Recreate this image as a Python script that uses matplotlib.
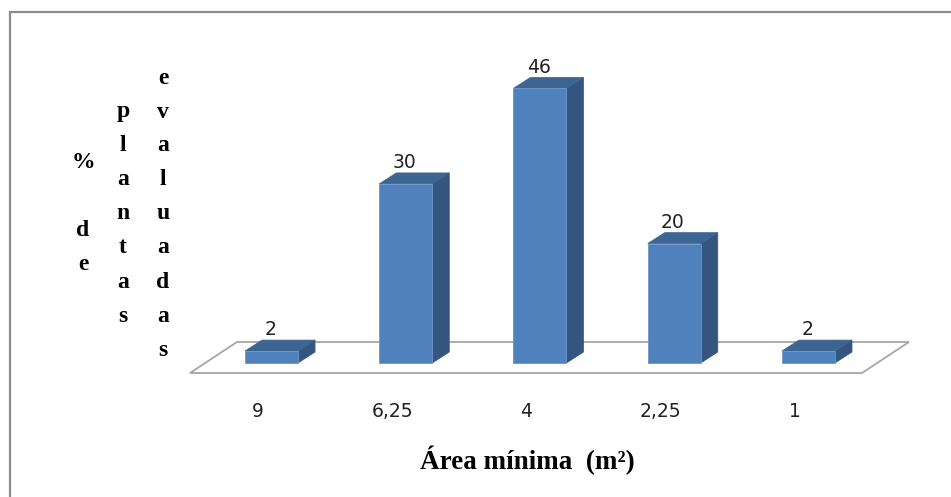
import numpy as np
import matplotlib
matplotlib.use("Agg")
import matplotlib.pyplot as plt
from matplotlib.patches import Polygon, Rectangle

# Minimum area per plant (m²) and share of evaluated plants (%)
areas = ["9", "6,25", "4", "2,25", "1"]
percent = [2, 30, 46, 20, 2]

W, H = 951, 497
FRONT = "#4F81BD"
SIDE = "#34557F"
TOP = "#3D6592"

fig = plt.figure(figsize=(W / 100, H / 100), dpi=100)
fig.patch.set_facecolor("white")

# chart frame runs off the right and bottom edges
fig.add_artist(Rectangle((10 / W, -0.05), 1.1, 1 - 12 / H + 0.05,
                         transform=fig.transFigure, fill=False,
                         ec="#8C8C8C", lw=1.6, clip_on=False))

ax = fig.add_axes([190 / W, (H - 373) / H, 672 / W, 313 / H])
ax.set_xlim(-0.607, 4.399)
ax.set_ylim(-1.675, 50.75)

x = np.arange(len(areas))
bw = 0.395          # bar width
ddx, ddy = 0.127, 1.84   # bar depth offset
fdx, fdy = 0.35, 5.19    # floor depth offset
y0 = -1.675

# floor
x_lo, x_hi = -0.607, 4.399
floor = Polygon([(x_lo, y0), (x_hi, y0), (x_hi + fdx, y0 + fdy), (x_lo + fdx, y0 + fdy)],
                closed=True, fc="white", ec="#A6A6A6", lw=1.3, zorder=1, clip_on=False)
ax.add_patch(floor)

bars = ax.bar(x, percent, width=bw, color=FRONT, edgecolor="#6E96C8", linewidth=0.6, zorder=3)
for rect, v in zip(bars, percent):
    l = rect.get_x()
    r = l + rect.get_width()
    side = Polygon([(r, 0), (r + ddx, ddy), (r + ddx, v + ddy), (r, v)],
                   closed=True, fc=SIDE, ec=SIDE, lw=0.5, zorder=2, clip_on=False)
    top = Polygon([(l, v), (r, v), (r + ddx, v + ddy), (l + ddx, v + ddy)],
                  closed=True, fc=TOP, ec=TOP, lw=0.5, zorder=2, clip_on=False)
    ax.add_patch(side)
    ax.add_patch(top)
    ax.text(rect.get_x() + rect.get_width() / 2 - 0.01, v + ddy + 1.7, str(v),
            ha="center", va="center", fontsize=13.5, color="#222222", zorder=4)

for s in ax.spines.values():
    s.set_visible(False)
ax.set_yticks([])
ax.set_xticks(x - 0.1, areas)
ax.tick_params(axis="x", length=0, pad=21, labelsize=13.5, labelcolor="#222222")
ax.patch.set_alpha(0)

fig.text(527 / W, 1 - 460 / H, "Área mínima  (m²)", family="Liberation Serif",
         weight="bold", fontsize=19.5, ha="center", va="center")

# y label written as stacked letters in three columns
cols = [(83, ["%", "", "d", "e"]), (123, list("plantas")), (163, list("evaluadas"))]
for cx, letters in cols:
    n = len(letters)
    for i, ch in enumerate(letters):
        cy = 214 + (i - (n - 1) / 2) * 34
        fig.text(cx / W, 1 - cy / H, ch, family="Liberation Serif", weight="bold",
                 fontsize=17, ha="center", va="center")

fig.savefig("out.png", dpi=100)
